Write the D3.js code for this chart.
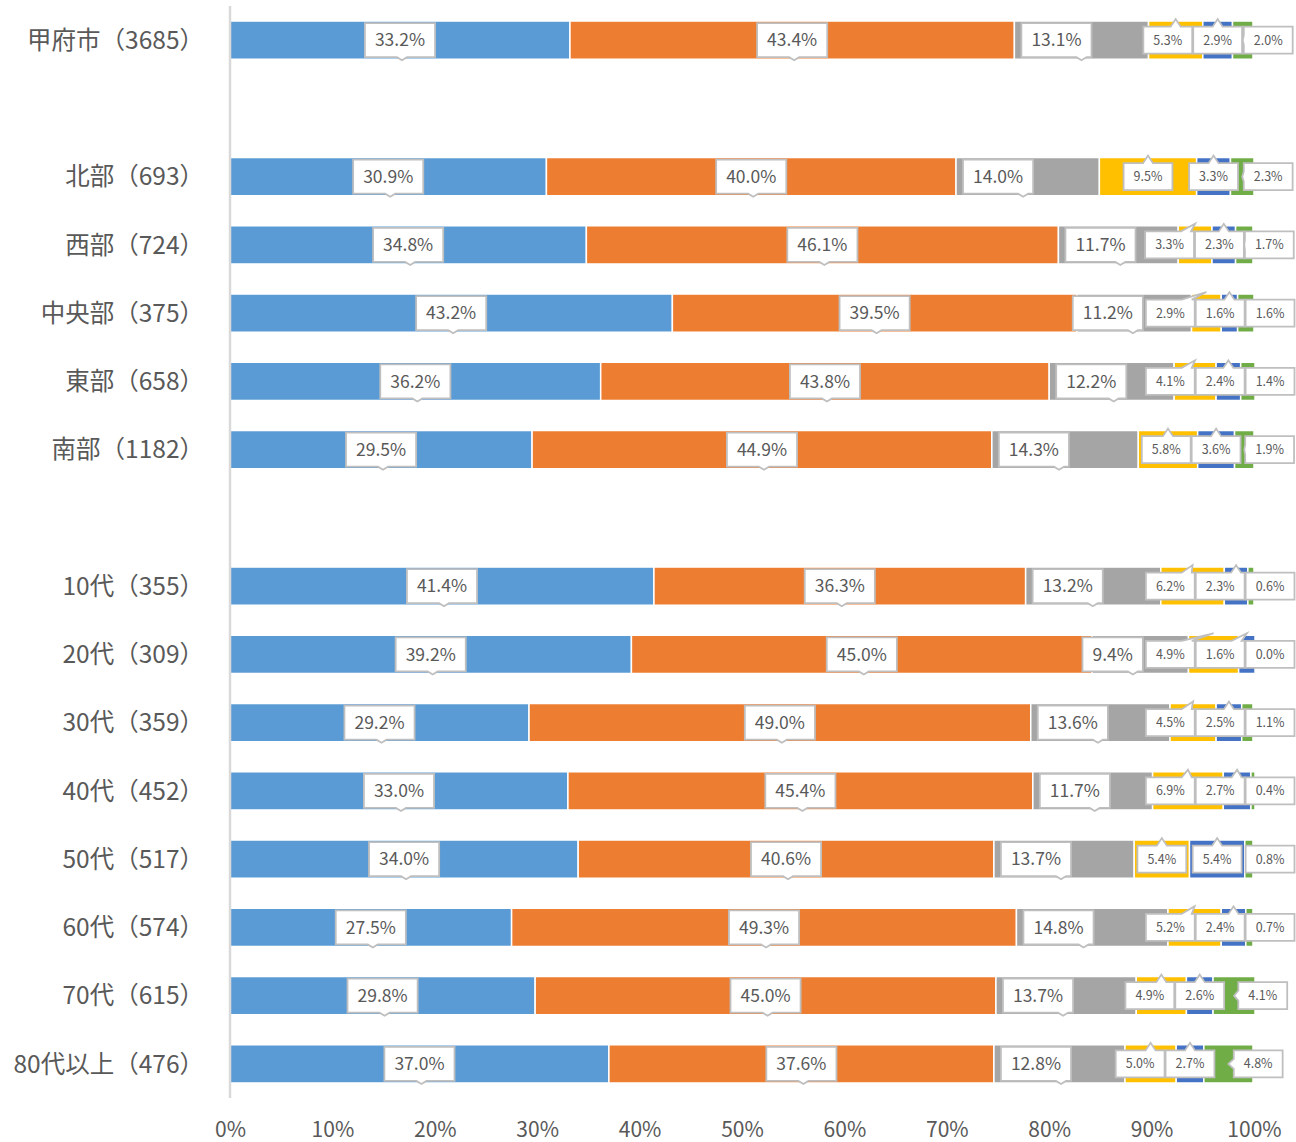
<!DOCTYPE html>
<html lang="ja">
<head>
<meta charset="utf-8">
<title>地域別・年代別 回答割合</title>
<script src="https://cdn.jsdelivr.net/npm/d3@7"></script>
<style>
  html, body { margin: 0; padding: 0; background: #ffffff; }
  svg { display: block; }
  text { font-family: "Noto Sans CJK JP", "Noto Sans", sans-serif; fill: #595959; }
</style>
</head>
<body>
<svg id="chart" width="1296" height="1142"></svg>
<script>
// Row labels (null = empty spacer row between groups)
const categories = [
  "甲府市（3685）", null,
  "北部（693）", "西部（724）", "中央部（375）", "東部（658）", "南部（1182）", null,
  "10代（355）", "20代（309）", "30代（359）", "40代（452）",
  "50代（517）", "60代（574）", "70代（615）", "80代以上（476）"
];

// Share of each answer (%), one array per answer option, aligned with categories
const answer1 = [33.2, null, 30.9, 34.8, 43.2, 36.2, 29.5, null, 41.4, 39.2, 29.2, 33.0, 34.0, 27.5, 29.8, 37.0];
const answer2 = [43.4, null, 40.0, 46.1, 39.5, 43.8, 44.9, null, 36.3, 45.0, 49.0, 45.4, 40.6, 49.3, 45.0, 37.6];
const answer3 = [13.1, null, 14.0, 11.7, 11.2, 12.2, 14.3, null, 13.2,  9.4, 13.6, 11.7, 13.7, 14.8, 13.7, 12.8];
const answer4 = [ 5.3, null,  9.5,  3.3,  2.9,  4.1,  5.8, null,  6.2,  4.9,  4.5,  6.9,  5.4,  5.2,  4.9,  5.0];
const answer5 = [ 2.9, null,  3.3,  2.3,  1.6,  2.4,  3.6, null,  2.3,  1.6,  2.5,  2.7,  5.4,  2.4,  2.6,  2.7];
const answer6 = [ 2.0, null,  2.3,  1.7,  1.6,  1.4,  1.9, null,  0.6,  0.0,  1.1,  0.4,  0.8,  0.7,  4.1,  4.8];

const xTicks = [0, 10, 20, 30, 40, 50, 60, 70, 80, 90, 100];

const seriesList = [answer1, answer2, answer3, answer4, answer5, answer6];
const colors = ["#5B9BD5", "#ED7D31", "#A5A5A5", "#FFC000", "#4472C4", "#70AD47"];

const width = 1296;
const svg = d3.select("#chart");
const plot = { left: 230, right: 1254, top: 6, bottom: 1098 };

const x = d3.scaleLinear().domain([0, 100]).range([plot.left, plot.right]);
const y = d3.scaleBand()
  .domain(d3.range(categories.length))
  .range([plot.top, plot.bottom])
  .paddingInner(0.44)
  .paddingOuter(0.22);

// Build stacked rows
const rows = categories.map((name, i) => {
  if (name === null) return null;
  let acc = 0;
  const segs = seriesList.map((s, k) => {
    const v = s[i];
    const seg = { k, v, x0: acc, x1: acc + v };
    acc += v;
    return seg;
  });
  return { i, name, segs, total: acc };
}).filter(d => d);

// Category labels
svg.append("g").selectAll("text")
  .data(rows).join("text")
  .attr("x", 204)
  .attr("y", d => y(d.i) + y.bandwidth() / 2)
  .attr("dy", "0.36em")
  .attr("text-anchor", "end")
  .attr("font-size", 24.5)
  .text(d => d.name);

// Bars
const barG = svg.append("g");
rows.forEach(r => {
  barG.selectAll(null)
    .data(r.segs).join("rect")
    .attr("x", d => x(d.x0))
    .attr("y", y(r.i))
    .attr("width", d => Math.max(0, x(d.x1) - x(d.x0)))
    .attr("height", y.bandwidth())
    .attr("fill", d => colors[d.k])
    .attr("stroke", "#ffffff")
    .attr("stroke-width", 1.5);
});

// Vertical axis line
svg.append("line")
  .attr("x1", plot.left).attr("x2", plot.left)
  .attr("y1", plot.top).attr("y2", plot.bottom)
  .attr("stroke", "#d9d9d9").attr("stroke-width", 2.5);

// Bottom axis tick labels
const xAxis = svg.append("g")
  .attr("transform", `translate(0, ${plot.bottom + 21})`)
  .call(d3.axisBottom(x).tickValues(xTicks).tickSize(0).tickFormat(d => d + "%"));
xAxis.select(".domain").remove();
xAxis.selectAll("text")
  .attr("font-size", 21)
  .attr("font-family", "\"Noto Sans\", sans-serif")
  .attr("fill", "#595959");

// Callout shape: box with a wedge pointing at (tx, ty)
function calloutPath(l, t, w, h, side, tx, ty) {
  const r = l + w, b = t + h, hw = 5;
  if (side === "top") {
    const c = Math.max(l + 8, Math.min(r - 8, tx));
    return `M${l},${t}L${c - hw},${t}L${tx},${ty}L${c + hw},${t}L${r},${t}L${r},${b}L${l},${b}Z`;
  }
  if (side === "bottom") {
    const c = Math.max(l + 8, Math.min(r - 8, tx));
    return `M${l},${t}L${r},${t}L${r},${b}L${c + hw},${b}L${tx},${ty}L${c - hw},${b}L${l},${b}Z`;
  }
  if (side === "left") {
    const c = t + h / 2;
    return `M${l},${t}L${r},${t}L${r},${b}L${l},${b}L${l},${c + hw}L${tx},${ty}L${l},${c - hw}Z`;
  }
  return `M${l},${t}L${r},${t}L${r},${b}L${l},${b}Z`;
}

const labelG = svg.append("g");
const fmt = v => v.toFixed(1) + "%";
const bigFont = "\"Liberation Sans Narrow\", \"Noto Sans\", sans-serif";
const smallFont = "\"Noto Sans\", sans-serif";
const padX = 10;
const bigSize = 17.5, smallSize = 12.5;

function measure(str, size, family) {
  const t = labelG.append("text").attr("font-family", family)
    .attr("font-size", size).text(str);
  const w = t.node().getComputedTextLength();
  t.remove();
  return w;
}

function drawLabel(l, t, w, h, size, family, str, side, tx, ty) {
  labelG.append("path")
    .attr("d", calloutPath(l, t, w, h, side, tx, ty))
    .attr("fill", "#ffffff")
    .attr("stroke", "#bfbfbf")
    .attr("stroke-width", 1.8)
    .attr("stroke-linejoin", "miter");
  labelG.append("text")
    .attr("x", l + w / 2)
    .attr("y", t + h / 2)
    .attr("dy", "0.36em")
    .attr("text-anchor", "middle")
    .attr("font-family", family)
    .attr("font-size", size)
    .text(str);
}

rows.forEach(r => {
  const top = y(r.i), bw = y.bandwidth(), bot = top + bw, cy = top + bw / 2;
  const segPx = r.segs.map(s => ({ ...s, a: x(s.x0), b: x(s.x1), c: (x(s.x0) + x(s.x1)) / 2 }));

  // Large labels for the first three answers: centred, the grey one hugs its left edge
  const bigH = 34;
  const big = segPx.slice(0, 3).map(s => {
    const str = fmt(s.v);
    const w = measure(str, bigSize, bigFont) + 2 * padX;
    return { s, str, w, l: s.k === 2 ? s.a + 7 : s.c - w / 2 };
  });
  const gray = big[2];
  const grayRight = gray.l + gray.w;

  // Small labels for the last three answers, packed right-to-left from the bar end
  const smallH = 27;
  const barEnd = x(r.total);
  const [s4, s5, s6] = segPx.slice(3);
  const str6 = fmt(s6.v), w6 = measure(str6, smallSize, smallFont) + 2 * padX;
  let l6 = barEnd - 0.35 * (s6.b - s6.a) - 2;
  const str5 = fmt(s5.v), w5 = measure(str5, smallSize, smallFont) + 2 * padX;
  let l5 = Math.min(s5.c + w5 / 2, l6 - 1) - w5;
  const str4 = fmt(s4.v), w4 = measure(str4, smallSize, smallFont) + 2 * padX;
  let l4 = Math.min(s4.c + w4 / 2, l5 - 1) - w4;

  if (l4 < grayRight + 4) {
    l4 = grayRight + 4;
    l5 = Math.max(l5, l4 + w4 + 1);
    l6 = Math.max(l6, l5 + w5 + 1);
  }
  // keep the last box inside the drawing, nudging its neighbours left
  l6 = Math.min(l6, width - w6 - 1.5);
  l5 = Math.min(l5, l6 - w5 - 1);
  l4 = Math.min(l4, l5 - w4 - 1);
  // and move the grey label aside if it is now crowded
  gray.l = Math.min(gray.l, l4 - 3 - gray.w);

  big.forEach(b => {
    drawLabel(b.l, cy - bigH / 2, b.w, bigH, bigSize, bigFont, b.str, "bottom",
      Math.max(b.l + 10, Math.min(b.l + b.w - 10, b.s.c + 2)), bot + 1);
  });

  const t = cy - smallH / 2;
  drawLabel(l4, t, w4, smallH, smallSize, smallFont, str4, "top", s4.c, top - 2);
  drawLabel(l5, t, w5, smallH, smallSize, smallFont, str5, "top", s5.c, top - 2);
  if (s6.c < l6) {
    drawLabel(l6, t, w6, smallH, smallSize, smallFont, str6, "left", Math.max(s6.c, l6 - 6), cy);
  } else {
    drawLabel(l6, t, w6, smallH, smallSize, smallFont, str6, "none", 0, 0);
  }
});
</script>
</body>
</html>
